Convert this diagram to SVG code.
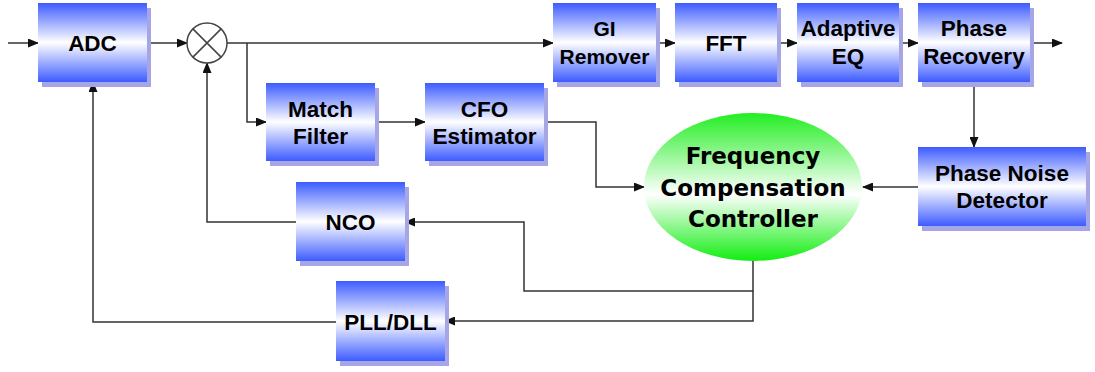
<svg xmlns="http://www.w3.org/2000/svg" width="1095" height="372" viewBox="0 0 1095 372">
  <defs>
    <linearGradient id="blueFill" x1="0" y1="0" x2="0" y2="1">
      <stop offset="0" stop-color="#3d5cff"/>
      <stop offset="0.5" stop-color="#ffffff"/>
      <stop offset="1" stop-color="#3d5cff"/>
    </linearGradient>
    <linearGradient id="greenFill" x1="0" y1="0" x2="0" y2="1">
      <stop offset="0" stop-color="#22ee22"/>
      <stop offset="0.55" stop-color="#ffffff"/>
      <stop offset="1" stop-color="#11ee11"/>
    </linearGradient>
    <marker id="arrow" markerUnits="userSpaceOnUse" markerWidth="11" markerHeight="9" refX="10" refY="4.5" orient="auto">
      <path d="M0,0 L11,4.5 L0,9 z" fill="#111"/>
    </marker>
  </defs>
  <style>
    .shadow { fill: #a6a6e6; }
    .box { fill: url(#blueFill); }
    .label { font-family: "Liberation Sans", Arial, sans-serif; font-weight: bold; font-size: 22.5px; fill: #000; text-anchor: middle; }
    .small { font-size: 21px; }
    .ellabel { font-family: "DejaVu Sans", Verdana, sans-serif; font-weight: bold; font-size: 23px; fill: #000; text-anchor: middle; }
    .wire { fill: none; stroke: #333; stroke-width: 1.5; }
  </style>

  <rect width="1095" height="372" fill="#ffffff"/>

  <!-- connectors -->
  <g id="connectors" class="wire">
    <path d="M8,43 H38" marker-end="url(#arrow)"/>
    <path d="M147,43 H187" marker-end="url(#arrow)"/>
    <path d="M227,43 H553" marker-end="url(#arrow)"/>
    <path d="M247,43 V122 H266" marker-end="url(#arrow)"/>
    <path d="M375,122 H425" marker-end="url(#arrow)"/>
    <path d="M544,122 H596 V187 H644" marker-end="url(#arrow)"/>
    <path d="M656,43 H675" marker-end="url(#arrow)"/>
    <path d="M777,43 H797" marker-end="url(#arrow)"/>
    <path d="M899,43 H918" marker-end="url(#arrow)"/>
    <path d="M1030,43 H1062" marker-end="url(#arrow)"/>
    <path d="M974,82 V147" marker-end="url(#arrow)"/>
    <path d="M918,187 H863" marker-end="url(#arrow)"/>
    <path d="M753,261 V291 H524 V222 H405" marker-end="url(#arrow)"/>
    <path d="M753,291 V321 H445" marker-end="url(#arrow)"/>
    <path d="M296,222 H207 V63" marker-end="url(#arrow)"/>
    <path d="M336,322 H93 V82" marker-end="url(#arrow)"/>
  </g>

  <!-- processing blocks -->
  <g id="adc">
    <rect class="shadow" x="42" y="8" width="109" height="79"/>
    <rect class="box" x="38" y="3" width="109" height="79"/>
    <text class="label" x="92.5" y="51">ADC</text>
  </g>

  <g id="mixer">
    <circle cx="207" cy="43" r="20" fill="#fff" stroke="#444" stroke-width="1.5"/>
    <path d="M192.9,28.9 L221.1,57.1 M221.1,28.9 L192.9,57.1" stroke="#444" stroke-width="1.5"/>
  </g>

  <g id="gi-remover">
    <rect class="shadow" x="557" y="8" width="103" height="79"/>
    <rect class="box" x="553" y="3" width="103" height="79"/>
    <text class="label small" x="604.5" y="36">GI</text>
    <text class="label small" x="604.5" y="64">Remover</text>
  </g>

  <g id="fft">
    <rect class="shadow" x="679" y="8" width="102" height="79"/>
    <rect class="box" x="675" y="3" width="102" height="79"/>
    <text class="label" x="726" y="51">FFT</text>
  </g>

  <g id="adaptive-eq">
    <rect class="shadow" x="801" y="8" width="102" height="79"/>
    <rect class="box" x="797" y="3" width="102" height="79"/>
    <text class="label" x="848" y="36">Adaptive</text>
    <text class="label" x="848" y="64">EQ</text>
  </g>

  <g id="phase-recovery">
    <rect class="shadow" x="922" y="8" width="112" height="79"/>
    <rect class="box" x="918" y="3" width="112" height="79"/>
    <text class="label" x="974" y="36">Phase</text>
    <text class="label" x="974" y="64">Recovery</text>
  </g>

  <g id="match-filter">
    <rect class="shadow" x="270" y="88" width="109" height="78"/>
    <rect class="box" x="266" y="83" width="109" height="78"/>
    <text class="label" x="320.5" y="117">Match</text>
    <text class="label" x="320.5" y="144">Filter</text>
  </g>

  <g id="cfo-estimator">
    <rect class="shadow" x="429" y="88" width="119" height="78"/>
    <rect class="box" x="425" y="83" width="119" height="78"/>
    <text class="label" x="484.5" y="117">CFO</text>
    <text class="label" x="484.5" y="144">Estimator</text>
  </g>

  <g id="phase-noise-detector">
    <rect class="shadow" x="922" y="152" width="168" height="79"/>
    <rect class="box" x="918" y="147" width="168" height="79"/>
    <text class="label" x="1002" y="181">Phase Noise</text>
    <text class="label" x="1002" y="208">Detector</text>
  </g>

  <g id="fcc">
    <ellipse cx="753" cy="187" rx="109" ry="74" fill="url(#greenFill)"/>
    <text class="ellabel" x="753" y="164">Frequency</text>
    <text class="ellabel" x="753" y="196">Compensation</text>
    <text class="ellabel" x="753" y="227">Controller</text>
  </g>

  <g id="nco">
    <rect class="shadow" x="300" y="187" width="109" height="79"/>
    <rect class="box" x="296" y="182" width="109" height="79"/>
    <text class="label" x="350.5" y="230">NCO</text>
  </g>

  <g id="pll-dll">
    <rect class="shadow" x="340" y="286" width="109" height="80"/>
    <rect class="box" x="336" y="281" width="109" height="80"/>
    <text class="label" x="390.5" y="330">PLL/DLL</text>
  </g>
</svg>
